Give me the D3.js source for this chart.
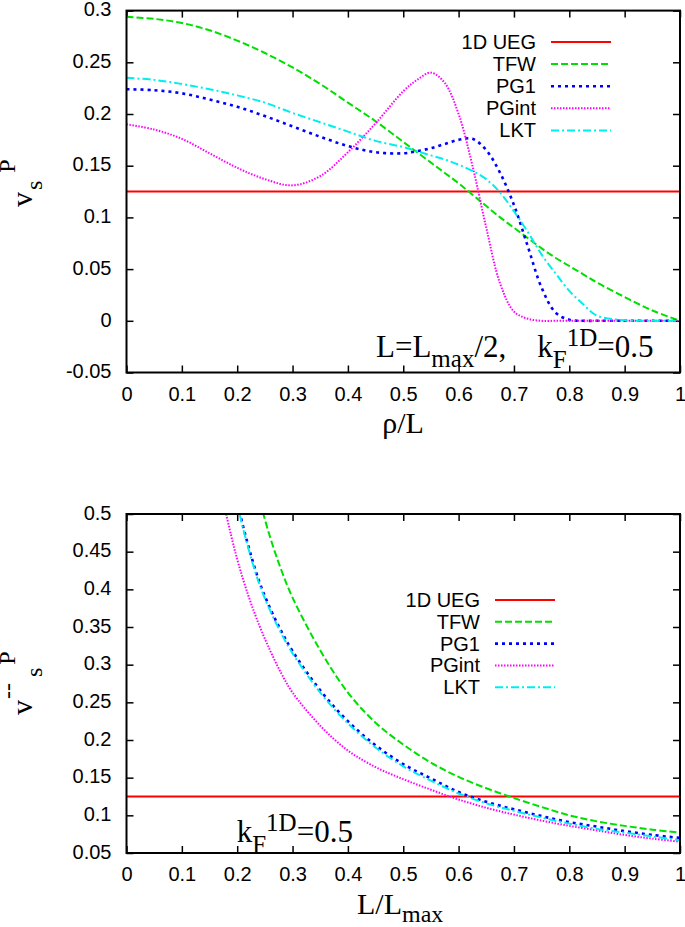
<!DOCTYPE html>
<html>
<head>
<meta charset="utf-8">
<script src="https://cdn.jsdelivr.net/npm/d3@7"></script>
<style>
  body { margin: 0; background: #fff; }
  svg text { fill: #000; }
  .tick text { font-family: "Liberation Sans", Arial, sans-serif; font-size: 20px; }
  .leg { font-family: "Liberation Sans", Arial, sans-serif; font-size: 20px; }
  .serif { font-family: "Liberation Serif", "Times New Roman", serif; white-space: pre; }
</style>
</head>
<body>
<div id="chart"></div>
<script>
// ---- data ----
var seriesNames = ["1D UEG", "TFW", "PG1", "PGint", "LKT"];
var seriesColors = ["#ff0000", "#00e000", "#0000ff", "#ff00ff", "#00eeee"];
var seriesDash = [null, "7,3", "3,4", "1.5,1.5", "8,3,2,3"];
var seriesWidth = [2, 2, 2.6, 2, 2];

var uegLevel = 0.125;

// upper panel: v_s^P against rho/L  (L = Lmax/2)
var rhoGrid = [0, 0.05, 0.1, 0.15, 0.2, 0.25, 0.3, 0.35, 0.4, 0.45, 0.5,
  0.525, 0.55, 0.575, 0.6, 0.625, 0.65, 0.675, 0.7, 0.725, 0.75, 0.775, 0.8, 0.825, 0.85,
  0.9, 0.95, 1];
var tfwTop = [0.294, 0.292, 0.288, 0.281, 0.271, 0.259, 0.245, 0.229, 0.211, 0.193, 0.173,
  0.163, 0.153, 0.143, 0.133, 0.122, 0.111, 0.100, 0.090, 0.080, 0.070, 0.061, 0.053, 0.045, 0.037,
  0.023, 0.010, 0];
var pg1Top = [0.224, 0.223, 0.220, 0.214, 0.207, 0.198, 0.188, 0.178, 0.169, 0.163, 0.162,
  0.164, 0.167, 0.171, 0.175, 0.176, 0.165, 0.143, 0.112, 0.072, 0.032, 0.008, 0.001, 0, 0,
  0, 0, 0];
var pgintTop = [0.190, 0.185, 0.176, 0.162, 0.148, 0.137, 0.131, 0.140, 0.163, 0.191, 0.222,
  0.233, 0.240, 0.230, 0.200, 0.150, 0.090, 0.036, 0.009, 0.002, 0, 0, 0, 0, 0,
  0, 0, 0];
var lktTop = [0.235, 0.233, 0.229, 0.224, 0.218, 0.211, 0.201, 0.192, 0.183, 0.174, 0.168,
  0.164, 0.160, 0.156, 0.151, 0.145, 0.137, 0.124, 0.106, 0.086, 0.064, 0.046, 0.029, 0.016, 0.005,
  0.0005, 0, 0];

// lower panel: averaged v_s^P against L/Lmax
var lGrid = [0.16, 0.18, 0.2, 0.22, 0.24, 0.26, 0.28, 0.3, 0.35, 0.4, 0.45, 0.5,
  0.55, 0.6, 0.65, 0.7, 0.75, 0.8, 0.85, 0.9, 0.95, 1];
var tfwBot = [null, null, null, 0.58, 0.52, 0.468, 0.425, 0.389, 0.319, 0.263, 0.223, 0.194,
  0.170, 0.151, 0.136, 0.123, 0.111, 0.100, 0.092, 0.086, 0.081, 0.077];
var pg1Bot = [null, 0.585, 0.516, 0.458, 0.410, 0.374, 0.344, 0.318, 0.266, 0.225, 0.193, 0.168,
  0.149, 0.131, 0.118, 0.108, 0.099, 0.091, 0.085, 0.079, 0.074, 0.070];
var pgintBot = [0.57, 0.50, 0.440, 0.392, 0.352, 0.318, 0.288, 0.263, 0.219, 0.186, 0.164, 0.148,
  0.134, 0.121, 0.110, 0.101, 0.093, 0.086, 0.080, 0.074, 0.069, 0.065];
var lktBot = [null, 0.582, 0.513, 0.455, 0.407, 0.371, 0.341, 0.315, 0.263, 0.222, 0.190, 0.165,
  0.146, 0.129, 0.116, 0.106, 0.097, 0.089, 0.082, 0.077, 0.072, 0.067];

var xTicks = [0, 0.1, 0.2, 0.3, 0.4, 0.5, 0.6, 0.7, 0.8, 0.9, 1];
var yTicksTop = [-0.05, 0, 0.05, 0.1, 0.15, 0.2, 0.25, 0.3];
var yTicksBot = [0.05, 0.1, 0.15, 0.2, 0.25, 0.3, 0.35, 0.4, 0.45, 0.5];

var width = 685, height = 927;
var svg = d3.select("#chart").append("svg")
    .attr("width", width)
    .attr("height", height);

function fmt(d) { return String(+d.toFixed(2)); }

function panel(opt) {
    var x = d3.scaleLinear().domain([0, 1]).range([opt.left, opt.right]);
    var y = d3.scaleLinear().domain(opt.ydom).range([opt.bottom, opt.top]);
    var g = svg.append("g");

    g.append("clipPath").attr("id", opt.id)
        .append("rect")
        .attr("x", opt.left).attr("y", opt.top)
        .attr("width", opt.right - opt.left).attr("height", opt.bottom - opt.top);

    // axes with inward ticks, mirrored
    var tk = 7;
    g.append("g").attr("class", "xaxis").attr("transform", "translate(0," + opt.bottom + ")")
        .call(d3.axisBottom(x).tickValues(xTicks).tickFormat(fmt).tickSizeInner(-tk).tickSizeOuter(0).tickPadding(14));
    g.append("g").attr("transform", "translate(0," + opt.top + ")")
        .call(d3.axisTop(x).tickValues(xTicks).tickFormat("").tickSizeInner(-tk).tickSizeOuter(0));
    g.append("g").attr("transform", "translate(" + opt.left + ",0)")
        .call(d3.axisLeft(y).tickValues(opt.yticks).tickFormat(fmt).tickSizeInner(-tk).tickSizeOuter(0).tickPadding(15));
    g.append("g").attr("transform", "translate(" + opt.right + ",0)")
        .call(d3.axisRight(y).tickValues(opt.yticks).tickFormat("").tickSizeInner(-tk).tickSizeOuter(0));
    g.selectAll(".domain").remove();
    g.selectAll(".tick line").attr("stroke", "#000").attr("stroke-width", 1.5);
    g.selectAll(".tick text").attr("dy", null).attr("dominant-baseline", "middle");
    g.selectAll(".xaxis .tick text").attr("dominant-baseline", "hanging");

    var plot = g.append("g").attr("clip-path", "url(#" + opt.id + ")");

    // 1D UEG constant
    plot.append("line")
        .attr("x1", x(0)).attr("x2", x(1))
        .attr("y1", y(uegLevel)).attr("y2", y(uegLevel))
        .attr("stroke", seriesColors[0]).attr("stroke-width", seriesWidth[0]);

    var line = d3.line()
        .defined(function(d) { return d[1] !== null; })
        .x(function(d) { return x(d[0]); })
        .y(function(d) { return y(d[1]); })
        .curve(d3.curveCatmullRom.alpha(0.5));

    opt.series.forEach(function(vals, i) {
        var k = i + 1;
        var pts = opt.grid.map(function(v, j) { return [v, vals[j]]; });
        plot.append("path")
            .datum(pts)
            .attr("d", line)
            .attr("fill", "none")
            .attr("stroke", seriesColors[k])
            .attr("stroke-width", seriesWidth[k])
            .attr("stroke-dasharray", seriesDash[k]);
    });

    // frame
    g.append("rect")
        .attr("x", opt.left).attr("y", opt.top)
        .attr("width", opt.right - opt.left).attr("height", opt.bottom - opt.top)
        .attr("fill", "none").attr("stroke", "#000").attr("stroke-width", 2);

    // legend
    var leg = g.append("g");
    seriesNames.forEach(function(name, i) {
        var by = opt.legY + i * opt.legStep;
        leg.append("text").attr("class", "leg")
            .attr("x", opt.legX).attr("y", by)
            .attr("text-anchor", "end").text(name);
        leg.append("line")
            .attr("x1", opt.legX + 15).attr("x2", opt.legX + 75)
            .attr("y1", by - 7).attr("y2", by - 7)
            .attr("stroke", seriesColors[i])
            .attr("stroke-width", seriesWidth[i])
            .attr("stroke-dasharray", seriesDash[i]);
    });
    return g;
}

var top1 = panel({
    id: "clipTop", left: 126.5, right: 680, top: 10.6, bottom: 372.5,
    ydom: [-0.05, 0.3], yticks: yTicksTop,
    grid: rhoGrid, series: [tfwTop, pg1Top, pgintTop, lktTop],
    legX: 536, legY: 49, legStep: 22.1
});
var bot1 = panel({
    id: "clipBot", left: 126.5, right: 680, top: 514, bottom: 853,
    ydom: [0.05, 0.5], yticks: yTicksBot,
    grid: lGrid, series: [tfwBot, pg1Bot, pgintBot, lktBot],
    legX: 480, legY: 607, legStep: 21.8
});

// axis titles
svg.append("text").attr("class", "serif")
    .attr("x", 403).attr("y", 433).attr("text-anchor", "middle")
    .style("font-size", "30px").text("ρ/L");

var xl = svg.append("text").attr("class", "serif")
    .attr("x", 357).attr("y", 914).style("font-size", "30px");
xl.append("tspan").text("L/L");
xl.append("tspan").attr("dy", 8).style("font-size", "24px").text("max");

// y titles
var yt = svg.append("text").attr("class", "serif")
    .attr("transform", "translate(32,207) rotate(-90)").style("font-size", "30px");
yt.append("tspan").text("v");
yt.append("tspan").attr("dy", 10).attr("dx", 2).style("font-size", "24px").text("s");
yt.append("tspan").attr("dy", -27).attr("dx", 8).style("font-size", "24px").text("P");

var yb = svg.append("text").attr("class", "serif")
    .attr("transform", "translate(32,715) rotate(-90)").style("font-size", "30px");
yb.append("tspan").text("v");
yb.append("tspan").attr("dy", -17).attr("dx", 1).style("font-size", "24px").text("--");
yb.append("tspan").attr("dy", 27).attr("dx", 6).style("font-size", "24px").text("s");
yb.append("tspan").attr("dy", -27).attr("dx", 3).style("font-size", "24px").text("P");

// annotations
var a1 = svg.append("text").attr("class", "serif")
    .attr("x", 376).attr("y", 357).style("font-size", "31px");
a1.append("tspan").text("L=L");
a1.append("tspan").attr("dy", 10).style("font-size", "25px").text("max");
a1.append("tspan").attr("dy", -10).text("/2,    k");
a1.append("tspan").attr("dy", 11).style("font-size", "25px").text("F");
a1.append("tspan").attr("dy", -22).style("font-size", "25px").text("1D");
a1.append("tspan").attr("dy", 11).text("=0.5");

var a2 = svg.append("text").attr("class", "serif")
    .attr("x", 236.7).attr("y", 842).style("font-size", "31px");
a2.append("tspan").text("k");
a2.append("tspan").attr("dy", 11).style("font-size", "25px").text("F");
a2.append("tspan").attr("dy", -22).style("font-size", "25px").text("1D");
a2.append("tspan").attr("dy", 11).text("=0.5");
</script>
</body>
</html>
